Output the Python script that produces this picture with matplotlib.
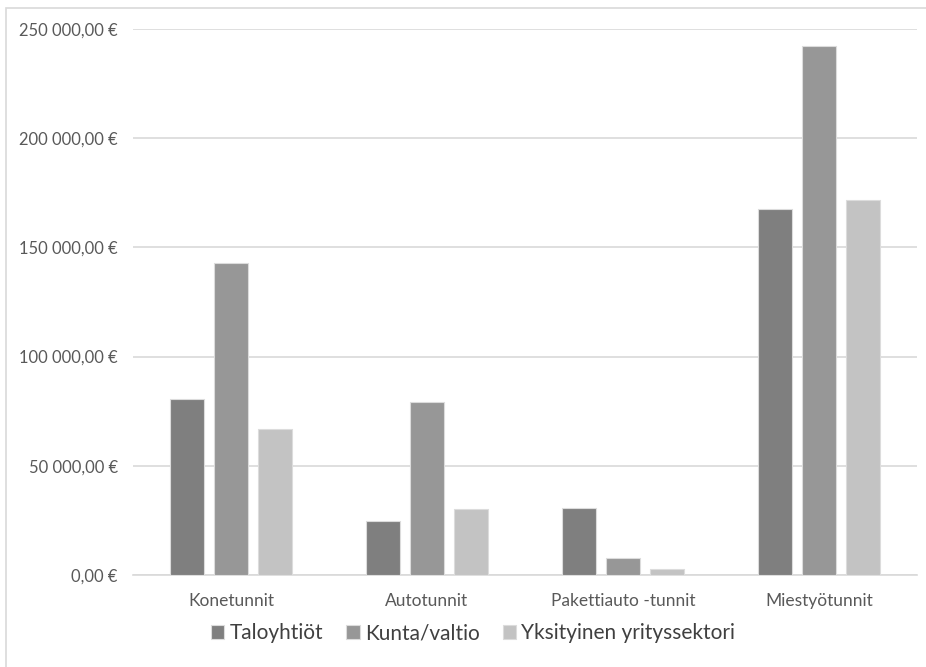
import matplotlib
matplotlib.use("Agg")
import matplotlib.pyplot as plt
import matplotlib.patches as mpatches
from matplotlib.ticker import FuncFormatter, MultipleLocator
import numpy as np

plt.rcParams['font.family'] = ['Lato', 'DejaVu Sans']

categories = ["Konetunnit", "Autotunnit", "Pakettiauto -tunnit", "Miestyötunnit"]
series_names = ["Taloyhtiöt", "Kunta/valtio", "Yksityinen yrityssektori"]
taloyhtiot = [80600, 24900, 30800, 167700]
kunta_valtio = [142700, 79100, 7600, 242300]
yksityinen = [66800, 30100, 2600, 171600]
series_values = [taloyhtiot, kunta_valtio, yksityinen]
colors = ["#7f7f7f", "#979797", "#c3c3c3"]
text_color = "#595959"
grid_color = "#d9d9d9"

fig = plt.figure(figsize=(9.26, 6.67), dpi=100)
ax = fig.add_axes([133 / 926, (667 - 575) / 667, 784 / 926, 546 / 667])

x = np.arange(len(categories))
bar_w = 0.1735
step = 0.222
for i, (name, vals, col) in enumerate(zip(series_names, series_values, colors)):
    ax.bar(x + (i - 1) * step, vals, width=bar_w, color=col, label=name,
           edgecolor="#dcdcdc", linewidth=0.8, zorder=3)

ax.set_xlim(-0.5, len(categories) - 0.5)
ax.set_ylim(0, 250000)
ax.yaxis.set_major_locator(MultipleLocator(50000))


def euro(v, pos):
    s = f"{v:,.2f}".replace(",", " ").replace(".", ",")
    return f"{s} €"


ax.yaxis.set_major_formatter(FuncFormatter(euro))
ax.set_xticks(x)
ax.set_xticklabels(categories)
ax.tick_params(axis="both", length=0, colors=text_color)
ax.tick_params(axis="y", labelsize=11.9, pad=11)
ax.tick_params(axis="x", labelsize=12.5, pad=13)
ax.grid(axis="y", color=grid_color, linewidth=1.2, zorder=0)
for side in ["top", "right", "left"]:
    ax.spines[side].set_visible(False)
ax.spines["bottom"].set_color(grid_color)
ax.spines["bottom"].set_linewidth(1.2)

# chart frame
frame = mpatches.Rectangle((6 / 926, -0.1), 2, (667 - 8) / 667 + 0.1,
                           transform=fig.transFigure, fill=False,
                           edgecolor="#d9d9d9", linewidth=1.2)
fig.patches.append(frame)

leg = fig.legend(loc="center", bbox_to_anchor=(473 / 926, 1 - 633 / 667), ncol=3,
                 frameon=False, fontsize=15, handlelength=0.65, handleheight=0.65,
                 handletextpad=0.25, columnspacing=1.1)
for t in leg.get_texts():
    t.set_color("#404040")

fig.savefig("out.png", dpi=100)
